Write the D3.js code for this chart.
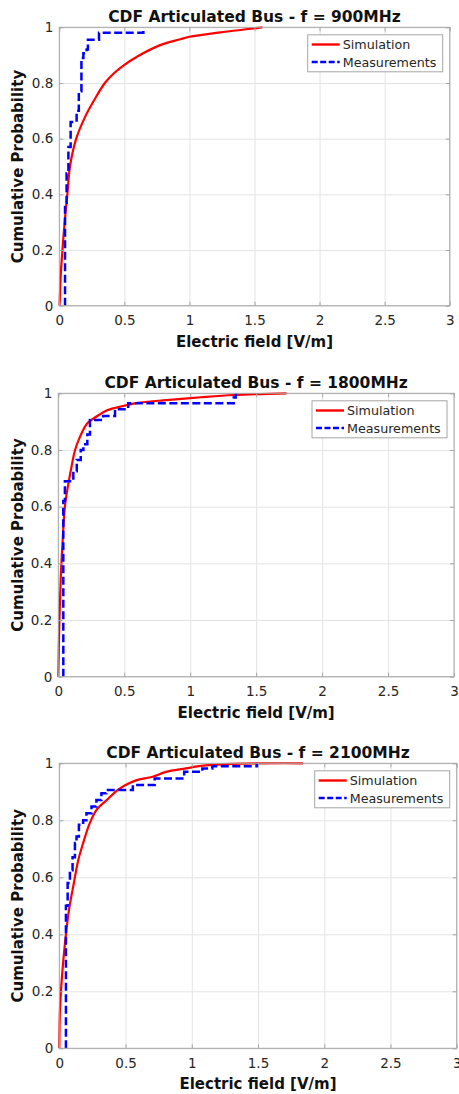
<!DOCTYPE html>
<html>
<head>
<meta charset="utf-8">
<script src="https://cdn.jsdelivr.net/npm/d3@7"></script>
<style>
  body { margin: 0; background: #fff; }
  text { font-family: "DejaVu Sans", sans-serif; }
  .tick text { fill: #262626; font-size: 13.5px; }
  .grid line { stroke: #e4e4e4; }
  .grid .domain { display: none; }
  .axis .domain { display: none; }
  .axis line { stroke: #a6a6a6; }
  .lbl { font-weight: bold; font-size: 15px; fill: #111; text-anchor: middle; }
  .ttl { font-weight: bold; font-size: 15.5px; fill: #111; text-anchor: middle; }
  .leg { font-size: 12.7px; fill: #262626; }
</style>
</head>
<body>
<div id="chart"></div>
<script>
var svgWidth = 459;
var svgHeight = 1094;

// Tick labels
var xTicks = [0, 0.5, 1, 1.5, 2, 2.5, 3];
var xTickLabels = ["0", "0.5", "1", "1.5", "2", "2.5", "3"];
var yTicks = [0, 0.2, 0.4, 0.6, 0.8, 1];
var yTickLabels = ["0", "0.2", "0.4", "0.6", "0.8", "1"];

var titles = ["CDF Articulated Bus - f = 900MHz", "CDF Articulated Bus - f = 1800MHz", "CDF Articulated Bus - f = 2100MHz"];
var seriesNames = ["Simulation", "Measurements"];

// 900 MHz
var sim900X = [0.002, 0.01, 0.024, 0.045, 0.062, 0.082, 0.13, 0.2, 0.27, 0.35, 0.42, 0.5, 0.6, 0.77, 0.93, 1.0, 1.24, 1.42, 1.56];
var sim900Y = [0, 0.1, 0.2, 0.32, 0.4, 0.5, 0.6, 0.68, 0.74, 0.8, 0.835, 0.865, 0.895, 0.935, 0.957, 0.966, 0.982, 0.992, 1.0];
var meas900X = [0.044, 0.044, 0.056, 0.07, 0.087, 0.133, 0.15, 0.17, 0.185, 0.21, 0.22, 0.305, 0.646];
var meas900Y = [0, 0.37, 0.475, 0.57, 0.66, 0.70, 0.77, 0.89, 0.907, 0.92, 0.955, 0.98, 1.0];

// 1800 MHz
var sim1800X = [0.0, 0.008, 0.02, 0.033, 0.05, 0.076, 0.1, 0.127, 0.165, 0.22, 0.29, 0.37, 0.49, 0.62, 0.82, 1.08, 1.33, 1.73];
var sim1800Y = [0, 0.19, 0.365, 0.48, 0.6, 0.68, 0.74, 0.8, 0.847, 0.894, 0.918, 0.94, 0.955, 0.967, 0.976, 0.986, 0.994, 1.0];
var meas1800X = [0.038, 0.038, 0.05, 0.114, 0.14, 0.17, 0.19, 0.22, 0.24, 0.34, 0.43, 0.53, 1.33, 1.345];
var meas1800Y = [0, 0.62, 0.69, 0.725, 0.765, 0.8, 0.82, 0.855, 0.906, 0.92, 0.944, 0.965, 0.985, 1.0];

// 2100 MHz
var sim2100X = [0.0, 0.005, 0.02, 0.043, 0.073, 0.11, 0.143, 0.18, 0.23, 0.28, 0.355, 0.44, 0.5, 0.58, 0.705, 0.805, 0.955, 1.055, 1.3, 1.84];
var sim2100Y = [0, 0.135, 0.25, 0.37, 0.485, 0.58, 0.66, 0.72, 0.79, 0.836, 0.87, 0.906, 0.924, 0.94, 0.953, 0.97, 0.982, 0.99, 0.998, 1.0];
var meas2100X = [0.05, 0.05, 0.063, 0.08, 0.1, 0.118, 0.13, 0.148, 0.18, 0.205, 0.243, 0.28, 0.318, 0.355, 0.555, 0.72, 0.943, 1.08, 1.155, 1.49];
var meas2100Y = [0, 0.5, 0.58, 0.625, 0.67, 0.72, 0.743, 0.784, 0.80, 0.825, 0.848, 0.871, 0.895, 0.906, 0.924, 0.947, 0.97, 0.982, 0.99, 1.0];

// panel boxes (left, right, top, bottom) in px
var panels = [
  { left: 59.3, right: 449.7, top: 27.3, bottom: 305.7, sx: sim900X, sy: sim900Y, mx: meas900X, my: meas900Y },
  { left: 58.3, right: 454, top: 393.3, bottom: 676.7, sx: sim1800X, sy: sim1800Y, mx: meas1800X, my: meas1800Y },
  { left: 59.3, right: 456.7, top: 763.3, bottom: 1048.3, sx: sim2100X, sy: sim2100Y, mx: meas2100X, my: meas2100Y }
];

var svg = d3.select("#chart")
  .append("svg")
  .attr("width", svgWidth)
  .attr("height", svgHeight);

function zipXY(xs, ys) {
  return xs.map(function(v, i) { return [v, ys[i]]; });
}

panels.forEach(function(p, idx) {
  var width = p.right - p.left;
  var height = p.bottom - p.top;

  var chartGroup = svg.append("g")
    .attr("transform", `translate(${p.left}, ${p.top})`);

  var xScale = d3.scaleLinear().domain([0, 3]).range([0, width]);
  var yScale = d3.scaleLinear().domain([0, 1]).range([height, 0]);

  //  Grid
  // ==============================
  chartGroup.append("g")
    .attr("class", "grid")
    .attr("transform", `translate(0, ${height})`)
    .call(d3.axisBottom(xScale).tickValues(xTicks).tickSize(-height).tickFormat(""));

  chartGroup.append("g")
    .attr("class", "grid")
    .call(d3.axisLeft(yScale).tickValues(yTicks).tickSize(-width).tickFormat(""));

  //  Curves
  // ==============================
  var simLine = d3.line()
    .x(d => xScale(d[0]))
    .y(d => yScale(d[1]))
    .curve(d3.curveCatmullRom.alpha(0.5));

  var stepLine = d3.line()
    .x(d => xScale(d[0]))
    .y(d => yScale(d[1]))
    .curve(d3.curveStepAfter);

  chartGroup.append("path")
    .datum(zipXY(p.sx, p.sy))
    .attr("d", simLine)
    .attr("fill", "none")
    .attr("stroke", "#ff0000")
    .attr("stroke-width", 2.2);

  chartGroup.append("path")
    .datum(zipXY(p.mx, p.my))
    .attr("d", stepLine)
    .attr("fill", "none")
    .attr("stroke", "#0000ff")
    .attr("stroke-width", 2.5)
    .attr("stroke-dasharray", "8,3.5");

  //  Axes (ticks point inward)
  // ==============================
  chartGroup.append("g")
    .attr("class", "axis")
    .attr("transform", `translate(0, ${height})`)
    .call(d3.axisBottom(xScale).tickValues(xTicks).tickSizeInner(-4).tickSizeOuter(0).tickPadding(10)
      .tickFormat((d, i) => xTickLabels[i]));

  chartGroup.append("g")
    .attr("class", "axis")
    .call(d3.axisLeft(yScale).tickValues(yTicks).tickSizeInner(-4).tickSizeOuter(0).tickPadding(6)
      .tickFormat((d, i) => yTickLabels[i]));

  chartGroup.append("g")
    .attr("class", "axis")
    .call(d3.axisTop(xScale).tickValues(xTicks).tickSizeInner(-4).tickSizeOuter(0).tickFormat(""));

  chartGroup.append("g")
    .attr("class", "axis")
    .attr("transform", `translate(${width}, 0)`)
    .call(d3.axisRight(yScale).tickValues(yTicks).tickSizeInner(-4).tickSizeOuter(0).tickFormat(""));

  chartGroup.append("rect")
    .attr("width", width)
    .attr("height", height)
    .attr("fill", "none")
    .attr("stroke", "#a6a6a6")
    .attr("stroke-width", 1);

  //  Texts
  // ==============================
  chartGroup.append("text")
    .attr("class", "ttl")
    .attr("x", width / 2)
    .attr("y", -5.5)
    .text(titles[idx]);

  chartGroup.append("text")
    .attr("class", "lbl")
    .attr("transform", `translate(${width / 2}, ${height + 41})`)
    .text("Electric field [V/m]");

  chartGroup.append("text")
    .attr("class", "lbl")
    .attr("transform", `translate(${23 - p.left}, ${height / 2}) rotate(-90)`)
    .text("Cumulative Probability");

  //  Legend
  // ==============================
  var legW = 135, legH = 37;
  var legend = chartGroup.append("g")
    .attr("transform", `translate(${width - 7 - legW}, 7.5)`);

  legend.append("rect")
    .attr("width", legW)
    .attr("height", legH)
    .attr("fill", "#fff")
    .attr("stroke", "#a6a6a6")
    .attr("stroke-width", 1);

  var rows = [
    { name: seriesNames[0], color: "#ff0000", dash: null, w: 2.4 },
    { name: seriesNames[1], color: "#0000ff", dash: "6,2.5", w: 2.5 }
  ];

  rows.forEach(function(r, i) {
    var cy = 9.7 + i * 17.6;
    legend.append("line")
      .attr("x1", 4)
      .attr("x2", 32)
      .attr("y1", cy)
      .attr("y2", cy)
      .attr("stroke", r.color)
      .attr("stroke-width", r.w)
      .attr("stroke-dasharray", r.dash);
    legend.append("text")
      .attr("class", "leg")
      .attr("x", 35)
      .attr("y", cy)
      .attr("dy", "0.36em")
      .text(r.name);
  });
});
</script>
</body>
</html>
